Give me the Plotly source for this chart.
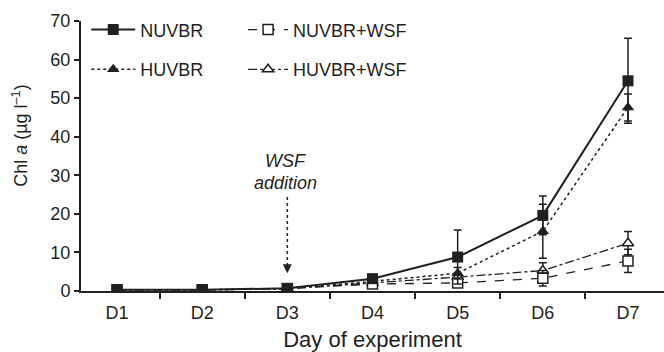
import plotly.graph_objects as go

days = ["D1", "D2", "D3", "D4", "D5", "D6", "D7"]
nuvbr = [0.3, 0.3, 0.7, 3.2, 8.8, 19.6, 54.5]
nuvbr_err = [0, 0, 0, 0, 7.0, 5.0, 11.0]
huvbr = [0.3, 0.3, 0.6, 2.5, 4.6, 15.5, 47.6]
huvbr_err = [0, 0, 0, 0, 1.5, 7.0, 3.5]
nuvbr_wsf = [0.3, 0.3, 0.6, 1.8, 2.1, 3.3, 7.8]
nuvbr_wsf_err = [0, 0, 0, 0, 1.0, 2.0, 3.0]
huvbr_wsf = [0.3, 0.3, 0.6, 2.1, 3.6, 5.3, 12.4]
huvbr_wsf_err = [0, 0, 0, 0, 1.0, 2.0, 3.0]

ink = "#231f20"
font_family = "Liberation Sans, Arial, sans-serif"
fs = 18

def err(vals):
    return dict(type="data", array=vals, visible=True, color=ink, thickness=1.5, width=4)

fig = go.Figure()
fig.add_trace(go.Scatter(
    x=days, y=huvbr_wsf, name="HUVBR+WSF", mode="lines+markers",
    line=dict(color=ink, width=1.3, dash="dashdot"),
    marker=dict(symbol="triangle-up", size=10, color="white", line=dict(color=ink, width=1.5)),
    error_y=err(huvbr_wsf_err), legend="legend4"))
fig.add_trace(go.Scatter(
    x=days, y=nuvbr_wsf, name="NUVBR+WSF", mode="lines+markers",
    line=dict(color=ink, width=1.3, dash="dash"),
    marker=dict(symbol="square", size=10, color="white", line=dict(color=ink, width=1.5)),
    error_y=err(nuvbr_wsf_err), legend="legend2"))
fig.add_trace(go.Scatter(
    x=days, y=huvbr, name="HUVBR", mode="lines+markers",
    line=dict(color=ink, width=1.5, dash="dot"),
    marker=dict(symbol="triangle-up", size=11, color=ink),
    error_y=err(huvbr_err), legend="legend3"))
fig.add_trace(go.Scatter(
    x=days, y=nuvbr, name="NUVBR", mode="lines+markers",
    line=dict(color=ink, width=2),
    marker=dict(symbol="square", size=11, color=ink),
    error_y=err(nuvbr_err), legend="legend"))

# WSF addition arrow (dotted shaft + arrowhead)
fig.add_shape(type="line", x0="D3", x1="D3", y0=24.4, y1=5.5,
              line=dict(color=ink, width=1.5, dash="dot"))
fig.add_annotation(x="D3", y=4.6, ax=0, ay=-8, text="", showarrow=True,
                   arrowhead=2, arrowsize=1.2, arrowwidth=1.5, arrowcolor=ink)
fig.add_annotation(x="D3", y=33.7, text="<i>WSF</i>", showarrow=False,
                   yanchor="middle", xshift=-2, font=dict(size=fs, color=ink, family=font_family))
fig.add_annotation(x="D3", y=28.1, text="<i>addition</i>", showarrow=False,
                   yanchor="middle", xshift=-2, font=dict(size=fs, color=ink, family=font_family))

# y-axis title
fig.add_annotation(xref="paper", yref="paper", x=-0.105, y=0.574, textangle=-90,
                   text="Chl <i>a</i> (µg l<sup>–1</sup>)", showarrow=False,
                   xanchor="center", yanchor="middle",
                   font=dict(size=fs, color=ink, family=font_family))

legend_common = dict(orientation="h",
                     font=dict(size=fs, color=ink, family=font_family),
                     bgcolor="rgba(0,0,0,0)", xanchor="left", yanchor="middle")

fig.update_layout(
    width=664, height=352,
    margin=dict(l=81, r=0, t=21, b=61, autoexpand=False),
    plot_bgcolor="white", paper_bgcolor="white",
    font=dict(family=font_family, size=fs, color=ink),
    showlegend=True,
    legend=dict(x=0.009, y=0.967, itemwidth=44, **legend_common),
    legend2=dict(x=0.278, y=0.967, itemwidth=40, **legend_common),
    legend3=dict(x=0.009, y=0.820, itemwidth=44, **legend_common),
    legend4=dict(x=0.278, y=0.820, itemwidth=40, **legend_common),
    xaxis=dict(type="category", tickson="boundaries", ticks="outside", ticklen=6,
               tickwidth=1.5, tickcolor=ink, showline=True, linecolor=ink, linewidth=2,
               showgrid=False, zeroline=False, ticklabelstandoff=4,
               title=dict(text="Day of experiment", standoff=12),
               tickfont=dict(size=fs)),
    yaxis=dict(range=[0, 70], dtick=10, ticks="outside", ticklen=5, tickwidth=1.5,
               tickcolor=ink, showline=True, linecolor=ink, linewidth=2,
               showgrid=False, zeroline=False, tickfont=dict(size=fs)),
)

fig.write_html("out.html", config={"displayModeBar": False},
               post_script="document.body.style.margin='0';document.body.style.overflow='hidden';")
